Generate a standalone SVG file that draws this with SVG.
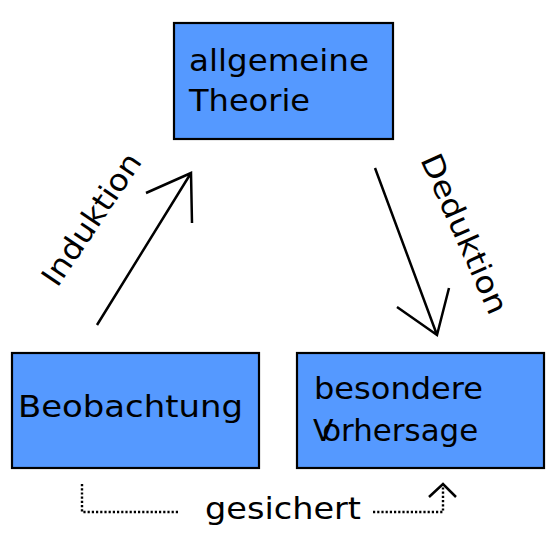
<svg xmlns="http://www.w3.org/2000/svg" width="553" height="553" viewBox="0 0 553 553">
<style>
.box{fill:#5599ff;stroke:#000;stroke-width:2.2}
.t{font-family:"DejaVu Sans",sans-serif;font-size:30px;fill:#000}
.ln{fill:none;stroke:#000;stroke-width:2.5}
.dot{fill:none;stroke:#000;stroke-width:2.4;stroke-dasharray:2.2,2}
</style>
<rect width="553" height="553" fill="#fff"/>
<g id="theorie">
<rect class="box" x="174" y="23" width="219" height="116"/>
<text class="t" x="189" y="71" textLength="180" lengthAdjust="spacingAndGlyphs">allgemeine</text>
<text class="t" x="189" y="111" textLength="121" lengthAdjust="spacingAndGlyphs">Theorie</text>
</g>
<g id="beobachtung">
<rect class="box" x="12" y="353" width="247" height="115"/>
<text class="t" x="18" y="417" textLength="225" lengthAdjust="spacingAndGlyphs">Beobachtung</text>
</g>
<g id="vorhersage">
<rect class="box" x="297" y="353" width="247" height="115"/>
<text class="t" x="314" y="399" textLength="169" lengthAdjust="spacingAndGlyphs">besondere</text>
<text class="t" x="313" y="441">V<tspan dx="-9" textLength="156" lengthAdjust="spacingAndGlyphs">orhersage</tspan></text>
</g>
<g id="connectors">
<path class="ln" d="M97,325 L191,173 M146,193 L191,173 L192,223"/>
<path class="ln" d="M375,168 L437,335 M397,307 L437,335 L449,288"/>
<path class="dot" d="M82,484 L82,512 L180,512"/>
<path class="dot" d="M373,512 L443,512 L443,487"/>
<path class="ln" d="M429,497 L443,484 L456,497" stroke-width="2.2"/>
</g>
<g id="labels">
<text class="t" text-anchor="middle" transform="translate(100,225) rotate(-56)" textLength="153" lengthAdjust="spacingAndGlyphs">Induktion</text>
<text class="t" text-anchor="middle" transform="translate(455,238) rotate(66)" textLength="172" lengthAdjust="spacingAndGlyphs">Deduktion</text>
<text class="t" x="205" y="519" textLength="156" lengthAdjust="spacingAndGlyphs">gesichert</text>
</g>
</svg>
